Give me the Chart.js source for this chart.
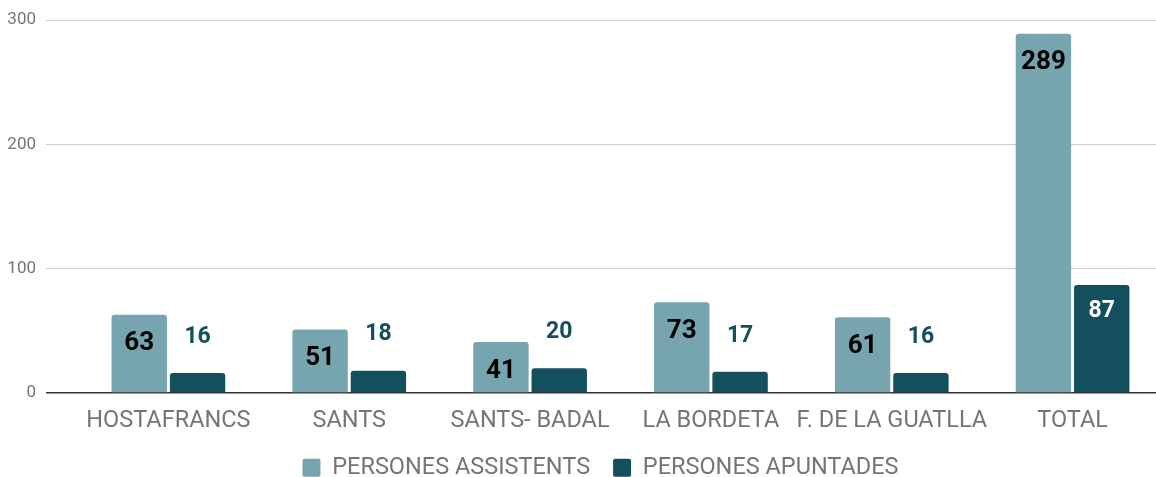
<!DOCTYPE html>
<html>
<head>
<meta charset="utf-8">
<script src="https://cdn.jsdelivr.net/npm/chart.js@4"></script>
<style>
  html, body { margin: 0; padding: 0; background: #fff; overflow: hidden; }
  #wrap { width: 1163px; height: 477px; position: relative; }
</style>
</head>
<body>
<div id="wrap"><canvas id="barChart"></canvas></div>
<script>
// Categories (neighbourhoods + total)
const barris = ['HOSTAFRANCS', 'SANTS', 'SANTS- BADAL', 'LA BORDETA', 'F. DE LA GUATLLA', 'TOTAL'];
// People who came
const assistents = [63, 51, 41, 73, 61, 289];
// People who signed up
const apuntades = [16, 18, 20, 17, 16, 87];
const yTicks = [0, 100, 200, 300];

const lightColor = '#76A5AF';
const darkColor = '#134F5C';

// Draws the value of each bar, inside the bar or just above it
const valueLabels = {
  id: 'valueLabels',
  afterDatasetsDraw(chart) {
    const ctx = chart.ctx;
    ctx.save();
    ctx.textAlign = 'center';
    ctx.textBaseline = 'middle';
    chart.data.datasets.forEach((ds, i) => {
      const meta = chart.getDatasetMeta(i);
      meta.data.forEach((bar, j) => {
        const value = ds.data[j];
        const h = bar.base - bar.y;
        if (i === 0) {
          ctx.font = 'bold 26px Roboto';
          ctx.fillStyle = '#000';
          ctx.fillText(value, bar.x, bar.y + 29);
        } else if (h > 45) {
          ctx.font = 'bold 23px Roboto';
          ctx.fillStyle = '#fff';
          ctx.fillText(value, bar.x, bar.y + 26);
        } else {
          ctx.font = 'bold 23px Roboto';
          ctx.fillStyle = darkColor;
          ctx.fillText(value, bar.x, bar.y - 36);
        }
      });
    });
    ctx.restore();
  }
};

// Keeps the legend short so it sits near the bottom edge, nudged a bit right
const legendHeight = {
  id: 'legendHeight',
  beforeLayout(chart) {
    const legend = chart.legend;
    if (legend && !legend._short) {
      const fit = legend.fit;
      legend.fit = function () { fit.call(this); this.height = 44; };
      legend._short = true;
    }
  },
  afterLayout(chart) {
    if (chart.legend) chart.legend.left += 38;
  }
};

new Chart(document.getElementById('barChart'), {
  type: 'bar',
  data: {
    labels: barris,
    datasets: [{
      label: 'PERSONES ASSISTENTS',
      data: assistents,
      backgroundColor: lightColor,
      borderRadius: { topLeft: 3, topRight: 3 },
      borderSkipped: 'bottom',
      categoryPercentage: 0.645,
      barPercentage: 0.95
    }, {
      label: 'PERSONES APUNTADES',
      data: apuntades,
      backgroundColor: darkColor,
      borderRadius: { topLeft: 3, topRight: 3 },
      borderSkipped: 'bottom',
      categoryPercentage: 0.645,
      barPercentage: 0.95
    }]
  },
  options: {
    responsive: true,
    maintainAspectRatio: false,
    animation: false,
    layout: { padding: { top: 20, right: 0, left: 0, bottom: 0 } },
    scales: {
      y: {
        min: 0,
        max: 300,
        afterBuildTicks: (scale) => { scale.ticks = yTicks.map(v => ({ value: v })); },
        afterFit: (scale) => { scale.width = 78; },
        border: { display: false },
        grid: {
          color: (c) => c.tick && c.tick.value === 0 ? '#333' : '#ccc',
          lineWidth: (c) => c.tick && c.tick.value === 0 ? 1.5 : 1,
          tickLength: 32
        },
        ticks: {
          color: '#757575',
          font: { family: 'Roboto', size: 17 },
          padding: 10
        }
      },
      x: {
        afterFit: (scale) => { scale.height = 40; },
        border: { display: false },
        grid: { display: false, drawTicks: false },
        ticks: {
          color: '#757575',
          font: { family: 'Roboto', size: 23.5 },
          padding: 14,
          maxRotation: 0,
          autoSkip: false
        }
      }
    },
    plugins: {
      legend: {
        position: 'bottom',
        labels: {
          color: '#757575',
          font: { family: 'Roboto', size: 23.5 },
          boxWidth: 18,
          boxHeight: 18,
          useBorderRadius: true,
          borderRadius: 2,
          padding: 23
        }
      },
      tooltip: { enabled: false }
    }
  },
  plugins: [valueLabels, legendHeight]
});
</script>
</body>
</html>
